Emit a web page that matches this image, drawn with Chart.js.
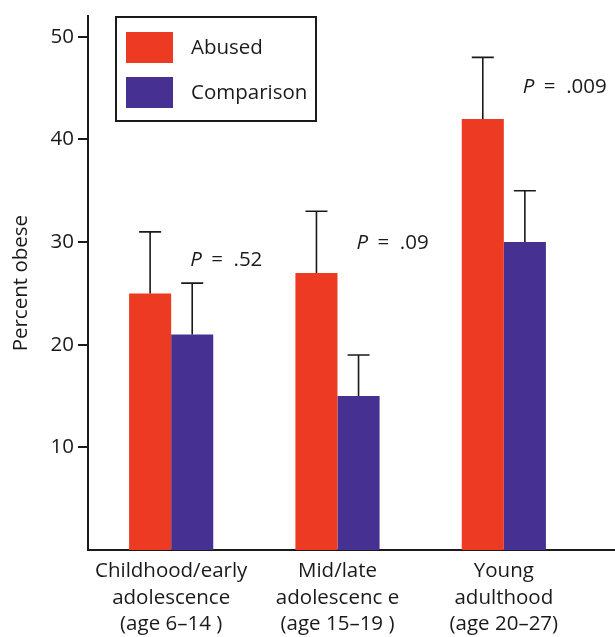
<!DOCTYPE html>
<html>
<head>
<meta charset="utf-8">
<script src="https://cdn.jsdelivr.net/npm/chart.js@4"></script>
<style>
  html, body { margin: 0; padding: 0; background: #fff; }
  #wrap { width: 615px; height: 637px; }
</style>
</head>
<body>
<div id="wrap"><canvas id="myChart" width="615" height="637"></canvas></div>
<script>
const ctx = document.getElementById('myChart');

// data
const categories = [
    ['Childhood/early', 'adolescence', '(age 6\u201314 )'],
    ['Mid/late', 'adolescenc e', '(age 15\u201319 )'],
    ['Young', 'adulthood', '(age 20\u201327)']
];
const abused = [25, 27, 42];
const comparison = [21, 15, 30];
const abusedUpper = [31, 33, 48];      // top of error bar
const comparisonUpper = [26, 19, 35];
const pValues = ['.52', '.09', '.009'];
const yTicks = [10, 20, 30, 40, 50];

const RED = '#ec3b22';
const BLUE = '#463192';
const INK = '#1a1a1a';
const FONT = '"Open Sans", sans-serif';
const FS = 20.5;

// error bars, p labels, legend box, axis extension
const extras = {
    id: 'extras',
    afterDatasetsDraw(chart) {
        const c = chart.ctx;
        const y = chart.scales.y;
        c.save();
        c.strokeStyle = INK;
        c.lineWidth = 1.6;
        [abusedUpper, comparisonUpper].forEach(function (ups, di) {
            const meta = chart.getDatasetMeta(di);
            meta.data.forEach(function (bar, i) {
                const top = y.getPixelForValue(ups[i]);
                c.beginPath();
                c.moveTo(bar.x, bar.y);
                c.lineTo(bar.x, top);
                c.moveTo(bar.x - 11, top);
                c.lineTo(bar.x + 11, top);
                c.stroke();
            });
        });

        // p values, placed next to the comparison bars
        const pAt = [28.2, 29.9, 45.1];
        const meta = chart.getDatasetMeta(1);
        c.fillStyle = INK;
        c.textBaseline = 'middle';
        pValues.forEach(function (p, i) {
            const px = meta.data[i].x - 2;
            const py = y.getPixelForValue(pAt[i]);
            c.font = 'italic ' + FS + 'px ' + FONT;
            c.fillText('P', px, py);
            const w = c.measureText('P').width;
            c.font = FS + 'px ' + FONT;
            c.fillText(' =  ' + p, px + w + 4, py);
        });

        // x axis line runs to the edge
        c.lineWidth = 2;
        c.beginPath();
        c.moveTo(chart.chartArea.right, y.bottom);
        c.lineTo(chart.width, y.bottom);
        c.stroke();

        // legend
        const lx = 116, ly = 17, lw = 200, lh = 104;
        c.fillStyle = '#fff';
        c.fillRect(lx, ly, lw, lh);
        c.lineWidth = 2;
        c.strokeRect(lx, ly, lw, lh);
        chart.data.datasets.forEach(function (ds, i) {
            const sy = 32 + i * 45;
            c.fillStyle = ds.backgroundColor;
            c.fillRect(126, sy, 47, 31);
            c.fillStyle = INK;
            c.font = FS + 'px ' + FONT;
            c.textBaseline = 'middle';
            c.fillText(ds.label, 191, sy + 16);
        });
        c.restore();
    }
};

new Chart(ctx, {
    type: 'bar',
    data: {
        labels: categories,
        datasets: [{
            label: 'Abused',
            data: abused,
            backgroundColor: RED,
            borderWidth: 0
        }, {
            label: 'Comparison',
            data: comparison,
            backgroundColor: BLUE,
            borderWidth: 0
        }]
    },
    options: {
        responsive: false,
        animation: false,
        layout: { padding: { top: 10, right: 28, left: 0, bottom: 0 } },
        categoryPercentage: 0.506,
        barPercentage: 1,
        plugins: {
            legend: { display: false },
            tooltip: { enabled: false }
        },
        scales: {
            x: {
                grid: { display: false },
                border: { display: true, color: INK, width: 2 },
                ticks: {
                    color: INK,
                    font: { family: FONT, size: FS, lineHeight: 1.3 },
                    padding: 0,
                    maxRotation: 0
                },
                afterFit: function (scale) { scale.height = 87; }
            },
            y: {
                min: 0,
                max: 52,
                afterBuildTicks: function (scale) {
                    scale.ticks = yTicks.map(function (v) { return { value: v }; });
                },
                grid: {
                    drawOnChartArea: false,
                    drawTicks: true,
                    tickLength: 10,
                    color: INK,
                    lineWidth: 2
                },
                border: { display: true, color: INK, width: 2 },
                ticks: {
                    color: INK,
                    font: { family: FONT, size: FS },
                    padding: 4
                },
                title: {
                    display: true,
                    text: 'Percent obese',
                    color: INK,
                    font: { family: FONT, size: FS },
                    padding: { top: 9, bottom: 0 }
                },
                afterFit: function (scale) { scale.width = 88; }
            }
        }
    },
    plugins: [extras]
});
</script>
</body>
</html>
